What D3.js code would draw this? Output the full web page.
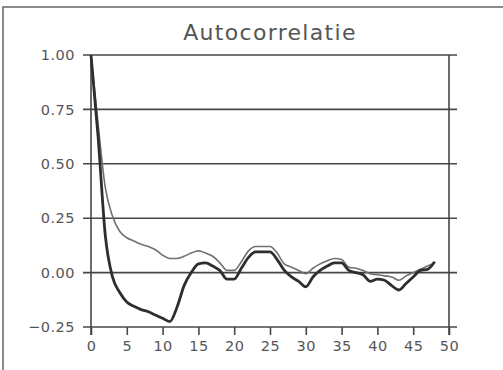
<!DOCTYPE html>
<html>
<head>
<meta charset="utf-8">
<script src="https://cdn.jsdelivr.net/npm/d3@7"></script>
<style>
  html, body { margin: 0; padding: 0; background: #fff; }
  svg { display: block; }
  text { font-family: "DejaVu Sans", sans-serif; fill: #555; }
</style>
</head>
<body>
<script>
// Autocorrelation by lag (0..48) for two series
const lags = d3.range(0, 49);
const acfThick = [1.00, 0.62, 0.17, -0.02, -0.09, -0.135, -0.155, -0.17, -0.18, -0.195,
  -0.21, -0.225, -0.16, -0.06, 0.00, 0.04, 0.045, 0.03, 0.01, -0.03,
  -0.03, 0.02, 0.07, 0.095, 0.095, 0.095, 0.06, 0.01, -0.02, -0.04,
  -0.065, -0.02, 0.01, 0.03, 0.045, 0.045, 0.01, 0.00, -0.01, -0.04,
  -0.03, -0.035, -0.06, -0.08, -0.05, -0.02, 0.01, 0.015, 0.05];
const acfThin = [1.00, 0.68, 0.39, 0.26, 0.19, 0.16, 0.145, 0.13, 0.12, 0.105,
  0.08, 0.065, 0.065, 0.075, 0.09, 0.10, 0.09, 0.075, 0.045, 0.01,
  0.01, 0.05, 0.10, 0.12, 0.12, 0.12, 0.09, 0.04, 0.025, 0.01,
  -0.005, 0.02, 0.04, 0.055, 0.065, 0.06, 0.025, 0.02, 0.01, -0.005,
  -0.01, -0.015, -0.02, -0.035, -0.015, 0.00, 0.015, 0.03, 0.045];
const yTicks = [-0.25, 0, 0.25, 0.5, 0.75, 1.0];
const xTicks = [0, 5, 10, 15, 20, 25, 30, 35, 40, 45, 50];
const title = "Autocorrelatie";

const W = 503, H = 370;
const svg = d3.select("body").append("svg").attr("width", W).attr("height", H);

// outer frame (top and left edges)
svg.append("path")
  .attr("d", `M3,${H} L3,7 L${W},7`)
  .attr("fill", "none").attr("stroke", "#666").attr("stroke-width", 1.5);

const x = d3.scaleLinear().domain([0, 50]).range([91, 449]);
const y = d3.scaleLinear().domain([-0.25, 1.0]).range([327, 55]);

const fmt = v => (v < 0 ? "\u2212" : "") + Math.abs(v).toFixed(2);
const ink = "#474747";

// left tick labels
const gy = svg.append("g").attr("transform", "translate(83,0)");
gy.call(d3.axisLeft(y).tickValues(yTicks).tickFormat(fmt).tickSize(0).tickPadding(8));
gy.select(".domain").remove();
gy.selectAll("text").attr("font-size", 14.5).attr("letter-spacing", 0.5)
  .style("font-family", "DejaVu Sans, sans-serif").attr("fill", "#555");

// horizontal grid lines
svg.append("g").selectAll("line").data(yTicks).join("line")
  .attr("x1", 83).attr("x2", 457)
  .attr("y1", d => y(d)).attr("y2", d => y(d))
  .attr("stroke", ink).attr("stroke-width", 1.6);

// bottom ticks and labels
const gx = svg.append("g").attr("transform", `translate(0,${y(-0.25)})`);
gx.call(d3.axisBottom(x).tickValues(xTicks).tickFormat(d3.format("d")).tickSize(8).tickPadding(6));
gx.select(".domain").remove();
gx.selectAll("line").attr("stroke", ink).attr("stroke-width", 1.6);
gx.selectAll("text").attr("font-size", 14.5).attr("letter-spacing", 0.5)
  .style("font-family", "DejaVu Sans, sans-serif").attr("fill", "#555");

// left and right vertical axis lines
[0, 50].forEach(v => {
  svg.append("line")
    .attr("x1", x(v)).attr("x2", x(v))
    .attr("y1", y(1.0)).attr("y2", y(-0.25) + 8)
    .attr("stroke", ink).attr("stroke-width", 1.6);
});

// series lines
const line = vals => d3.line()
  .x((d, i) => x(lags[i])).y(d => y(d))
  .curve(d3.curveMonotoneX)(vals);

svg.append("path").attr("d", line(acfThin))
  .attr("fill", "none").attr("stroke", "#707070").attr("stroke-width", 1.6)
  .attr("stroke-linejoin", "round");
svg.append("path").attr("d", line(acfThick))
  .attr("fill", "none").attr("stroke", "#2e2e2e").attr("stroke-width", 2.8)
  .attr("stroke-linejoin", "round");

// title
svg.append("text")
  .attr("x", 270).attr("y", 40)
  .attr("text-anchor", "middle")
  .attr("font-size", 22).attr("letter-spacing", 1.3)
  .attr("fill", "#555")
  .text(title);
</script>
</body>
</html>
